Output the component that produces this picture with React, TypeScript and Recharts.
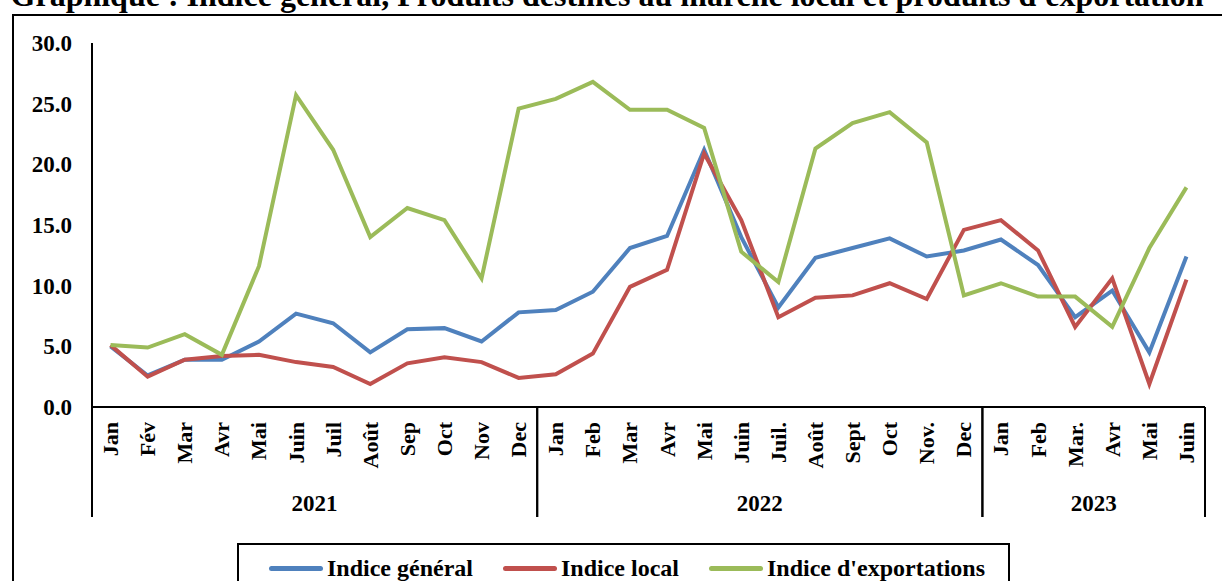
import { LineChart, Line, XAxis, YAxis } from 'recharts';

const months2021 = ['Jan', 'Fév', 'Mar', 'Avr', 'Mai', 'Juin', 'Juil', 'Août', 'Sep', 'Oct', 'Nov', 'Dec'];
const months2022 = ['Jan', 'Feb', 'Mar', 'Avr', 'Mai', 'Juin', 'Juil.', 'Août', 'Sept', 'Oct', 'Nov.', 'Dec'];
const months2023 = ['Jan', 'Feb', 'Mar.', 'Avr', 'Mai', 'Juin'];
const years = ['2021', '2022', '2023'];

const indiceGeneral = [
  5.0, 2.6, 3.9, 3.9, 5.4, 7.7, 6.9, 4.5, 6.4, 6.5, 5.4, 7.8,
  8.0, 9.5, 13.1, 14.1, 21.2, 14.0, 8.2, 12.3, 13.1, 13.9, 12.4, 12.9,
  13.8, 11.7, 7.4, 9.6, 4.5, 12.4,
];
const indiceLocal = [
  5.1, 2.5, 3.9, 4.2, 4.3, 3.7, 3.3, 1.9, 3.6, 4.1, 3.7, 2.4,
  2.7, 4.4, 9.9, 11.3, 20.9, 15.4, 7.4, 9.0, 9.2, 10.2, 8.9, 14.6,
  15.4, 12.9, 6.6, 10.6, 1.9, 10.5,
];
const indiceExport = [
  5.1, 4.9, 6.0, 4.3, 11.6, 25.7, 21.2, 14.0, 16.4, 15.4, 10.6, 24.6,
  25.4, 26.8, 24.5, 24.5, 23.0, 12.8, 10.3, 21.3, 23.4, 24.3, 21.8, 9.2,
  10.2, 9.1, 9.1, 6.6, 13.1, 18.1,
];
const yTicks = [0, 5, 10, 15, 20, 25, 30];

const seriesNames = ['Indice général', 'Indice local', "Indice d'exportations"];
const seriesColors = ['#4F81BD', '#C0504D', '#9BBB59'];

const FONT = '"Liberation Serif", "Times New Roman", serif';
const CHART_W = 1222;
const CHART_H = 581;
const MARGIN = { top: 43, right: 17, left: 0, bottom: 0 };
const Y_AXIS_W = 92;
const X_AXIS_H = 174;
const PLOT_W = CHART_W - MARGIN.left - MARGIN.right - Y_AXIS_W;

const groups = [months2021, months2022, months2023];
let idx = 0;
const data = groups.flatMap((ms, g) =>
  ms.map((m, i) => {
    const row = {
      id: `${years[g]}-${i}`,
      month: m,
      year: years[g],
      first: i === 0,
      last: i === ms.length - 1,
      groupSize: ms.length,
      general: indiceGeneral[idx],
      local: indiceLocal[idx],
      exportations: indiceExport[idx],
    };
    idx++;
    return row;
  })
);

function MonthTick(props: any) {
  const { x, y, payload } = props;
  const row = data[payload.index];
  if (!row) return null;
  const bw = PLOT_W / data.length;
  const left = x - bw / 2;
  return (
    <g>
      <text
        transform={`translate(${x},${y + 15}) rotate(-90)`}
        textAnchor="end"
        dominantBaseline="central"
        fontFamily={FONT}
        fontWeight="bold"
        fontSize={22}
        fill="#000"
      >
        {row.month}
      </text>
      {row.first && <line x1={left} x2={left} y1={y} y2={y + 110} stroke="#000" strokeWidth={2} />}
      {row.first && (
        <text
          x={left + (row.groupSize * bw) / 2}
          y={y + 96}
          textAnchor="middle"
          dominantBaseline="central"
          fontFamily={FONT}
          fontWeight="bold"
          fontSize={23}
          fill="#000"
        >
          {row.year}
        </text>
      )}
      {row.last && <line x1={x + bw / 2} x2={x + bw / 2} y1={y} y2={y + 110} stroke="#000" strokeWidth={2} />}
    </g>
  );
}

export default function App() {
  return (
    <div
      style={{
        position: 'absolute',
        left: 0,
        top: 0,
        width: CHART_W,
        height: CHART_H,
        overflow: 'hidden',
        background: '#fff',
        fontFamily: FONT,
      }}
    >
      <div
        style={{
          position: 'absolute',
          left: 12,
          top: 14,
          width: 1240,
          height: 620,
          border: '2px solid #000',
          boxSizing: 'border-box',
        }}
      />
      <div
        style={{
          position: 'absolute',
          left: 0,
          top: -21,
          width: 1214,
          textAlign: 'center',
          fontSize: 32,
          lineHeight: '32px',
          fontWeight: 'bold',
          whiteSpace: 'nowrap',
        }}
      >
        Graphique : Indice général, Produits destinés au marché local et produits d'exportation
      </div>
      <div style={{ position: 'absolute', left: 0, top: 0 }}>
        <LineChart width={CHART_W} height={CHART_H} data={data} margin={MARGIN}>
          <XAxis
            dataKey="id"
            scale="band"
            height={X_AXIS_H}
            interval={0}
            tickLine={false}
            tickSize={0}
            tickMargin={0}
            axisLine={{ stroke: '#000', strokeWidth: 2 }}
            tick={<MonthTick />}
          />
          <YAxis
            width={Y_AXIS_W}
            domain={[0, 30]}
            ticks={yTicks}
            interval={0}
            tickLine={false}
            tickSize={0}
            tickMargin={20}
            tickFormatter={(v: number) => v.toFixed(1)}
            axisLine={{ stroke: '#000', strokeWidth: 2 }}
            tick={{ fill: '#000', fontSize: 23, fontWeight: 'bold', fontFamily: FONT }}
          />
          <Line type="linear" dataKey="general" stroke={seriesColors[0]} strokeWidth={4} dot={false} isAnimationActive={false} />
          <Line type="linear" dataKey="local" stroke={seriesColors[1]} strokeWidth={4} dot={false} isAnimationActive={false} />
          <Line type="linear" dataKey="exportations" stroke={seriesColors[2]} strokeWidth={4} dot={false} isAnimationActive={false} />
        </LineChart>
      </div>
      <div
        style={{
          position: 'absolute',
          left: 237,
          top: 543,
          width: 773,
          height: 60,
          border: '2px solid #000',
          boxSizing: 'border-box',
          display: 'flex',
          alignItems: 'flex-start',
          paddingLeft: 30,
          paddingTop: 9,
          gap: 30,
        }}
      >
        {seriesNames.map((name, i) => (
          <div key={name} style={{ display: 'flex', alignItems: 'center', fontSize: 24, fontWeight: 'bold', lineHeight: '28px' }}>
            <span
              style={{
                display: 'inline-block',
                width: 54,
                height: 5,
                borderRadius: 3,
                background: seriesColors[i],
                marginRight: 4,
              }}
            />
            {name}
          </div>
        ))}
      </div>
    </div>
  );
}
